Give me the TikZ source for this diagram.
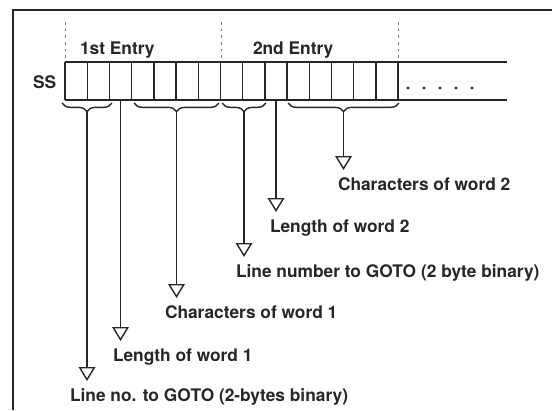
\documentclass[tikz,border=0pt]{standalone}
\usepackage{fontspec}
\setmainfont{TeX Gyre Heros}
\usetikzlibrary{arrows.meta,decorations.pathreplacing}

\begin{document}
\begin{tikzpicture}[x=0.75pt,y=-0.75pt,line width=1.05pt,draw=black!85,
  lbl/.style={anchor=base west,inner xsep=0pt,inner ysep=0pt,outer xsep=0pt,outer ysep=6pt,
    text height=9pt,text=black!85,font=\fontsize{13}{15}\selectfont\bfseries},
  ptr/.style={-{Triangle[open,length=10.5pt,width=12.5pt]}},
  grp/.style={decorate,decoration={brace,mirror,amplitude=6.5pt}}]
  \useasboundingbox (0,0) rectangle (552,410);
  \draw[line width=1.7pt] (13,410) -- (13,10) -- (552,10);
  % the string store
  \draw (65,62) -- (507,62) (65,100) -- (507,100);
  \foreach \i in {0,...,15} \draw (65+22.2*\i,62) -- (65+22.2*\i,100);
  \foreach \x in {65,221,398} \draw[gray,line width=0.5pt,dash pattern=on 2pt off 3pt] (\x,22) -- (\x,58);
  \foreach \x in {408,424,440,456,472} \fill[black!85] (\x,88) circle (1.2pt);
  \node[lbl] (ss) at (33,88) {SS};
  \node[lbl] (e1) at (80,55) {1st Entry};
  \node[lbl] (e2) at (253,55) {2nd Entry};
  % fields
  \draw[grp] (62,103) -- (112,103);
  \draw[grp] (134,103) -- (219,103);
  \draw[grp] (222,103) -- (266,103);
  \draw[grp] (288,103) -- (399,103);
  \coordinate (f1) at (87,111);
  \coordinate (f2) at (120.5,100);
  \coordinate (f3) at (176.5,111);
  \coordinate (f4) at (244,111);
  \coordinate (f5) at (276,100);
  \coordinate (f6) at (343.5,111);
  \node[lbl] (l1) at (70,401) {Line no. to GOTO (2-bytes binary)};
  \node[lbl] (l2) at (113,361) {Length of word 1};
  \node[lbl] (l3) at (165,318) {Characters of word 1};
  \node[lbl] (l4) at (236,277) {Line number to GOTO (2 byte binary)};
  \node[lbl] (l5) at (270,232) {Length of word 2};
  \node[lbl] (l6) at (338,190) {Characters of word 2};
  \foreach \n in {1,...,6} \draw[ptr] (f\n) -- (f\n |- l\n.north);
\end{tikzpicture}
\end{document}
